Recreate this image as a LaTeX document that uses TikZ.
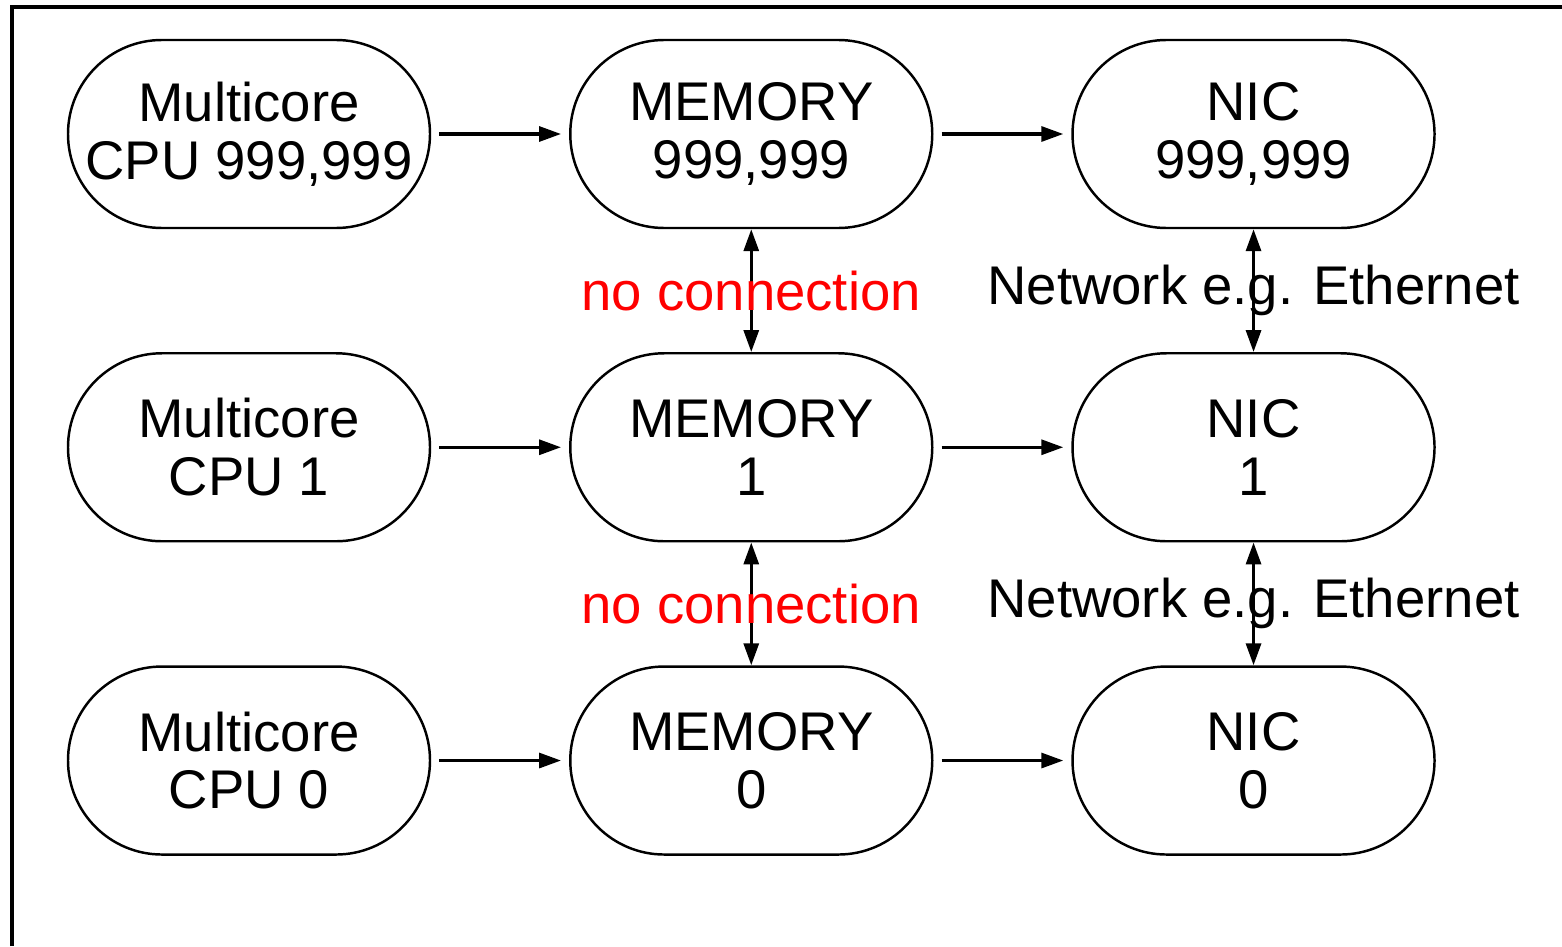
\documentclass[tikz,border=0pt]{standalone}
\usepackage{fontspec}
\setmainfont{Liberation Sans}
\usetikzlibrary{arrows.meta,positioning}
\tikzset{
	box/.style={draw, line width=0.7pt, rounded corners=0.94cm,
		minimum width=3.62cm, minimum height=1.88cm, align=center,
		font=\fontsize{15.5}{16.5}\selectfont},
	link/.style={-{Triangle[length=2.2mm,width=1.5mm]}, line width=0.9pt,
		shorten <=0.8mm, shorten >=0.8mm},
	duplex/.style={{Triangle[length=2.2mm,width=1.5mm]}-{Triangle[length=2.2mm,width=1.5mm]},
		line width=0.9pt},
	lbl/.style={font=\fontsize{15.5}{16.5}\selectfont, inner sep=0pt},
}
\begin{document}
\begin{tikzpicture}[node distance=1.228cm and 1.378cm]
\useasboundingbox (0,0) rectangle (15.62,9.46);
\draw[line width=1.1pt] (0.12,0)--(0.12,9.39)--(15.62,9.39);
% top row
\node[box] (cpu2) at (2.49,8.12) {Multicore\\CPU 999,999};
\node[box, right=of cpu2] (mem2) {MEMORY\\999,999};
\node[box, right=of mem2] (nic2) {NIC\\999,999};
% middle row
\node[box, below=of cpu2] (cpu1) {Multicore\\CPU 1};
\node[box, below=of mem2] (mem1) {MEMORY\\1};
\node[box, below=of nic2] (nic1) {NIC\\1};
% bottom row
\node[box, below=of cpu1] (cpu0) {Multicore\\CPU 0};
\node[box, below=of mem1] (mem0) {MEMORY\\0};
\node[box, below=of nic1] (nic0) {NIC\\0};
\draw[link] (cpu2)--(mem2);
\draw[link] (mem2)--(nic2);
\draw[link] (cpu1)--(mem1);
\draw[link] (mem1)--(nic1);
\draw[link] (cpu0)--(mem0);
\draw[link] (mem0)--(nic0);
\draw[duplex] (mem2)-- node[lbl, text=red] {no connection} (mem1);
\draw[duplex] (mem1)-- node[lbl, text=red] {no connection} (mem0);
\draw[duplex] (nic2)-- node[lbl] {Network e.g. Ethernet} (nic1);
\draw[duplex] (nic1)-- node[lbl] {Network e.g. Ethernet} (nic0);
\end{tikzpicture}
\end{document}
